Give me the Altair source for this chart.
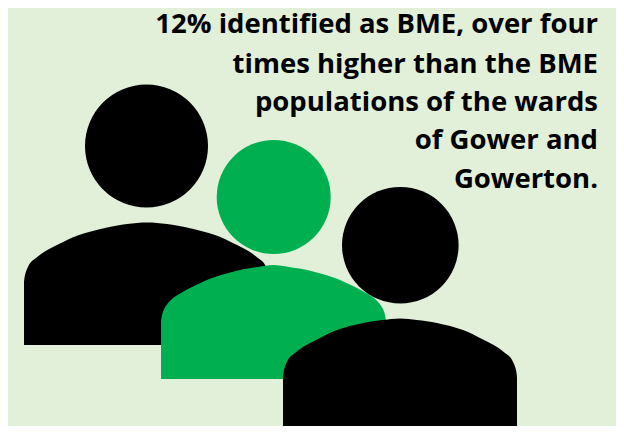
import altair as alt
import pandas as pd

BG = "#E2EFD9"
GREEN = "#00B050"
BLACK = "#000000"

body1_x = [24, 25, 27, 31, 36, 44, 59, 79, 105, 127, 147, 167, 189, 215, 235, 250, 258, 263, 267, 269, 270]
body1_y = [282, 275, 269, 262, 258, 252, 244, 235, 228, 224, 222.5, 224, 228, 235, 244, 252, 258, 262, 269, 275, 282]
body2_x = [161, 162, 164, 168, 173, 181, 196, 215, 240, 258, 273.5, 289, 307, 332, 351, 366, 374, 379, 383, 385, 386]
body2_y = [322, 315, 309, 303, 298, 293, 285, 277, 270, 267, 265, 267, 270, 277, 285, 293, 298, 303, 309, 315, 322]
body3_x = [283, 284, 286, 290, 295, 303, 318, 337, 363, 383, 400, 417, 437, 463, 482, 497, 505, 510, 514, 516, 517]
body3_y = [377, 370, 364, 357, 353, 347, 339, 330, 323, 320, 318.5, 320, 323, 330, 339, 347, 353, 357, 364, 370, 377]
body_base = [345, 379, 426]

heads_x = [146.5, 273.7, 400.3]
heads_y = [146, 197, 245.2]
heads_r = [61.5, 57, 58.3]

lines = ["12% identified as BME, over four", "times higher than the BME",
         "populations of the wards", "of Gower and", "Gowerton."]
lines_y = [33, 72.5, 111, 149, 187.5]

xs = alt.Scale(domain=[8, 616], nice=False, zero=False)
ys = alt.Scale(domain=[426, 8], nice=False, zero=False)
X = lambda f: alt.X(f, type="quantitative", scale=xs, axis=None)
Y = lambda f: alt.Y(f, type="quantitative", scale=ys, axis=None)


def body(xv, yv, base, color):
    df = pd.DataFrame({"x": xv, "y": yv, "b": [base] * len(xv)})
    return alt.Chart(df).mark_area(color=color, interpolate="catmull-rom", clip=True).encode(
        x=X("x"), y=Y("y"), y2="b")


def head(i, color):
    df = pd.DataFrame({"x": [heads_x[i]], "y": [heads_y[i]]})
    return alt.Chart(df).mark_point(filled=True, opacity=1, color=color, shape="circle",
                                    size=(heads_r[i] * 2) ** 2).encode(x=X("x"), y=Y("y"))


text = alt.Chart(pd.DataFrame({"t": lines, "y": lines_y, "x": [598] * 5})).mark_text(
    align="right", baseline="alphabetic", font="Open Sans", fontWeight="bold", fontSize=27.5, color="#000000"
).encode(x=X("x"), y=Y("y"), text="t:N")

chart = alt.layer(
    head(0, BLACK), body(body1_x, body1_y, body_base[0], BLACK),
    head(1, GREEN), body(body2_x, body2_y, body_base[1], GREEN),
    head(2, BLACK), body(body3_x, body3_y, body_base[2], BLACK),
    text,
).properties(width=608, height=418, background=BG, padding=0).configure_view(stroke=None)
chart.save("out.html", embed_options={"renderer": "svg", "actions": False})
